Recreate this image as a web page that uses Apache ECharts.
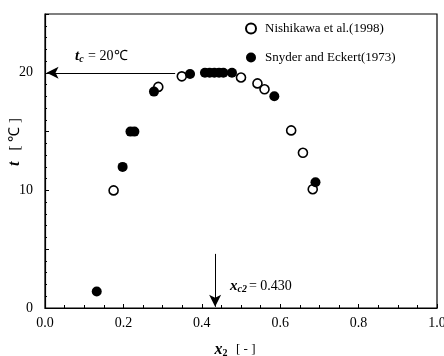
<!DOCTYPE html>
<html><head><meta charset="utf-8">
<script src="https://cdn.jsdelivr.net/npm/echarts@6/dist/echarts.min.js"></script>
<style>html,body{margin:0;padding:0;background:#fff}#c{width:444px;height:356px}</style>
</head><body><div id="c"></div>
<script>
// Nishikawa et al. (1998) — open circles [x2, t]
const nishikawa = [
  [0.175, 10.0], [0.289, 18.8], [0.349, 19.7], [0.500, 19.6], [0.542, 19.1],
  [0.560, 18.6], [0.628, 15.1], [0.658, 13.2], [0.683, 10.1]
];
// Snyder and Eckert (1973) — filled circles [x2, t]
const snyder = [
  [0.132, 1.4], [0.198, 12.0], [0.218, 15.0], [0.228, 15.0], [0.278, 18.4],
  [0.370, 19.9], [0.408, 20.0], [0.420, 20.0], [0.432, 20.0], [0.444, 20.0],
  [0.455, 20.0], [0.477, 20.0], [0.585, 18.0], [0.690, 10.7]
];
const seriesNames = ['Nishikawa et al.(1998)', 'Snyder and Eckert(1973)'];
const xTicks = [0, 0.2, 0.4, 0.6, 0.8, 1.0];
const yTicks = [0, 10, 20];
// annotation arrows (data space)
const tcArrow = [[0.332, 20], [0.004, 20]];
const xcArrow = [[0.434, 4.6], [0.434, 0.1]];

const serif = 'Liberation Serif';
const chart = echarts.init(document.getElementById('c'), null, {renderer: 'canvas'});
chart.setOption({
  animation: false,
  backgroundColor: '#fff',
  textStyle: {fontFamily: serif, color: '#000'},
  grid: {left: 45, right: 7, top: 14, bottom: 48, containLabel: false, outerBoundsMode: 'none',
         show: true, borderColor: '#000', borderWidth: 1.2},
  legend: {
    orient: 'vertical', left: 240, top: 17, itemGap: 16,
    itemWidth: 10, itemHeight: 10, icon: 'circle',
    textStyle: {fontFamily: serif, fontSize: 13, color: '#000', padding: [0, 0, 0, 4]},
    data: seriesNames
  },
  xAxis: {
    type: 'value', min: 0, max: 1, interval: 0.2,
    name: '{b|x}{s|2}  [ - ]', nameLocation: 'middle', nameGap: 42, nameMoveOverlap: false,
    nameTextStyle: {fontFamily: serif, fontSize: 13, color: '#000', verticalAlign: 'middle', padding: [0, 12, 0, 0],
      rich: {b: {fontFamily: serif, fontStyle: 'italic', fontWeight: 'bold', fontSize: 16},
             s: {fontFamily: serif, fontWeight: 'bold', fontSize: 10, verticalAlign: 'bottom', padding: [6,2,0,0]}}},
    axisLine: {lineStyle: {color: '#000', width: 1.2}},
    axisTick: {inside: true, length: 4, lineStyle: {color: '#000'}},
    minorTick: {show: true, splitNumber: 4, length: 3, lineStyle: {color: '#000'}},
    splitLine: {show: false},
    axisLabel: {fontFamily: serif, fontSize: 14, color: '#000', margin: 8,
      formatter: v => xTicks.some(t => Math.abs(t - v) < 1e-9) ? v.toFixed(1) : ''}
  },
  yAxis: {
    type: 'value', min: 0, max: 25, interval: 5,
    name: '{b|t}   [ ℃ ]', nameLocation: 'middle', nameGap: 30, nameRotate: 90, nameMoveOverlap: false,
    nameTextStyle: {fontFamily: serif, fontSize: 15, color: '#000', verticalAlign: 'middle', padding: [0, 0, 0, 38],
      rich: {b: {fontFamily: serif, fontStyle: 'italic', fontWeight: 'bold', fontSize: 16}}},
    axisLine: {show: true, lineStyle: {color: '#000', width: 1.2}},
    axisTick: {inside: true, length: 4, lineStyle: {color: '#000'}},
    minorTick: {show: true, splitNumber: 5, length: 2, lineStyle: {color: '#000'}},
    splitLine: {show: false},
    axisLabel: {fontFamily: serif, fontSize: 14, color: '#000', margin: 12,
      formatter: v => yTicks.indexOf(v) >= 0 ? String(v) : ''}
  },
  series: [
    {
      name: seriesNames[0], type: 'scatter', data: nishikawa, symbol: 'circle', symbolSize: 9, z: 2,
      itemStyle: {color: '#fff', borderColor: '#000', borderWidth: 1.6, opacity: 1},
      markLine: {
        silent: true, symbol: ['none', 'arrow'], symbolSize: [9, 12],
        lineStyle: {color: '#000', width: 1, type: 'solid', opacity: 1}, label: {show: false},
        emphasis: {disabled: true},
        data: [
          [{coord: tcArrow[0]}, {coord: tcArrow[1]}],
          [{coord: xcArrow[0]}, {coord: xcArrow[1]}]
        ]
      }
    },
    {
      name: seriesNames[1], type: 'scatter', data: snyder, symbol: 'circle', symbolSize: 10, z: 3,
      itemStyle: {color: '#000', borderColor: '#000', borderWidth: 0, opacity: 1}
    }
  ],
  graphic: [
    {type: 'text', left: 75, top: 49, style: {
      text: '{i|t}{s|c} = 20℃', fill: '#000', font: '14px "Liberation Serif"',
      rich: {i: {fontFamily: serif, fontStyle: 'italic', fontWeight: 'bold', fontSize: 15},
             s: {fontFamily: serif, fontStyle: 'italic', fontWeight: 'bold', fontSize: 10, verticalAlign: 'bottom', padding: [5,1,0,0]}}}},
    {type: 'text', left: 230, top: 279, style: {
      text: '{i|x}{s|c2}= 0.430', fill: '#000', font: '14px "Liberation Serif"',
      rich: {i: {fontFamily: serif, fontStyle: 'italic', fontWeight: 'bold', fontSize: 15},
             s: {fontFamily: serif, fontStyle: 'italic', fontWeight: 'bold', fontSize: 10, verticalAlign: 'bottom', padding: [5,2,0,0]}}}}
  ]
});
</script></body></html>
